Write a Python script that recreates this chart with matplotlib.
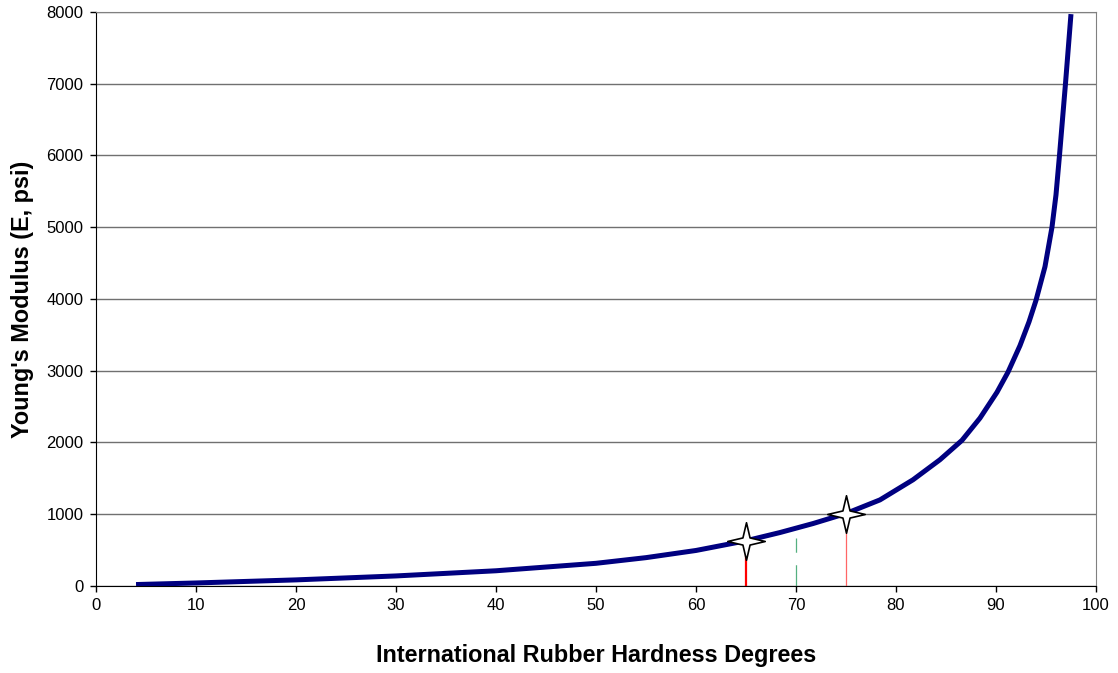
import matplotlib.pyplot as plt
import numpy as np
from matplotlib.path import Path

plt.rcParams['font.family'] = ['Liberation Sans', 'DejaVu Sans']

# Young's modulus curve
irhd = [4, 10, 20, 30, 40, 50, 55, 60, 65, 68.4, 71.7, 75, 78.4, 81.7, 84.4,
        86.6, 88.4, 90.1, 91.2, 92.4, 93.3, 94.0, 94.9, 95.6, 96.0, 96.35,
        96.65, 96.95, 97.5]
modulus = [20, 42, 85, 140, 212, 316, 395, 495, 630, 745, 870, 1010, 1200,
           1480, 1760, 2030, 2340, 2700, 2980, 3350, 3680, 3980, 4450, 5000,
           5450, 6000, 6500, 7000, 7970]

# highlighted points
star_x = [65, 75]
star_y = [630, 1010]

# reference marker at 70
mid_x = 70
mid_y = 670

x_ticks = np.arange(0, 101, 10)
y_ticks = np.arange(0, 8001, 1000)

fig = plt.figure(figsize=(11.18, 6.73), dpi=100)
ax = fig.add_axes([0.0859, 0.1293, 0.8944, 0.8529])

ax.set_xlim(0, 100)
ax.set_ylim(0, 8000)
ax.set_xticks(x_ticks)
ax.set_yticks(y_ticks)
ax.grid(axis='y', color='#707070', lw=1.0)
ax.set_axisbelow(True)

# drop lines
ax.plot([star_x[0], star_x[0]], [0, star_y[0]], color='#ff0000', lw=1.6, zorder=2)
ax.plot([star_x[1], star_x[1]], [0, star_y[1]], color='#ff6666', lw=0.9, zorder=2)
ax.plot([mid_x, mid_x], [0, mid_y], color='#55b080', lw=0.9,
        ls=(0, (17, 10)), zorder=2)

ax.plot(irhd, modulus, color='#000080', lw=3.6, solid_capstyle='butt',
        solid_joinstyle='round', zorder=3)

# four-pointed star marker
a = 0.19
verts = [(0, 1), (a, a), (1, 0), (a, -a), (0, -1), (-a, -a), (-1, 0), (-a, a), (0, 1)]
codes = [Path.MOVETO] + [Path.LINETO] * 7 + [Path.CLOSEPOLY]
star = Path(verts, codes)
ax.plot(star_x, star_y, ls='none', marker=star, ms=27, mfc='white',
        mec='black', mew=1.2, zorder=4)

for s in ['left', 'bottom']:
    ax.spines[s].set_color('black')
for s in ['top', 'right']:
    ax.spines[s].set_color('#808080')

ax.tick_params(direction='out', length=4, width=1, labelsize=12, pad=5)

ax.set_xlabel('International Rubber Hardness Degrees', fontsize=16.8,
              fontweight='bold', labelpad=22)
ax.set_ylabel("Young's Modulus (E, psi)", fontsize=16.8, fontweight='bold',
              labelpad=9)

fig.savefig('out.png', dpi=100)
